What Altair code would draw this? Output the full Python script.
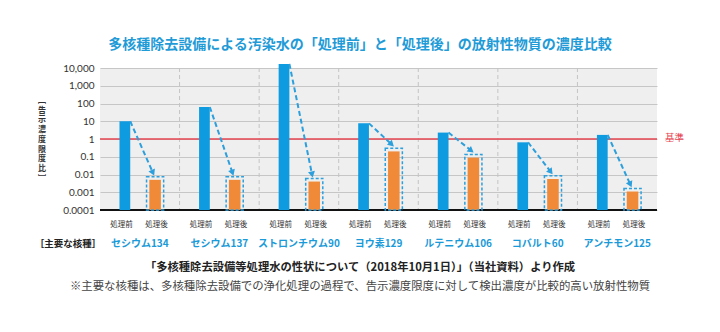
import math
import altair as alt
import pandas as pd

# ---------------- data ----------------
nuclides = ["セシウム134", "セシウム137", "ストロンチウム90", "ヨウ素129",
            "ルテニウム106", "コバルト60", "アンチモン125"]
before = [10, 63, 17000, 7.6, 2.3, 0.65, 1.7]          # 処理前
after = [0.005, 0.005, 0.004, 0.2, 0.089, 0.0056, 0.0011]  # 処理後
tick_values = [0.0001, 0.001, 0.01, 0.1, 1, 10, 100, 1000, 10000]
tick_labels = ["0.0001", "0.001", "0.01", "0.1", "1", "10", "100", "1,000", "10,000"]
bar_labels = ["処理前", "処理後"]
standard = 1

title_text = "多核種除去設備による汚染水の「処理前」と「処理後」の放射性物質の濃度比較"
y_title_chars = ["﹇", "告", "示", "濃", "度", "限", "度", "比", "﹈"]
group_title = "［主要な核種］"
source_text = "「多核種除去設備等処理水の性状について（2018年10月1日）」（当社資料）より作成"
note_text = "※主要な核種は、多核種除去設備での浄化処理の過程で、告示濃度限度に対して検出濃度が比較的高い放射性物質"
standard_label = "基準"

# ---------------- layout / style ----------------
W, H = 557, 142
N = len(nuclides)
FONT = "Noto Sans CJK JP"
BLUE = "#0f9be0"
ORANGE = "#f08a38"
ARROW = "#2c9fdc"
RED = "#e6434f"
TEXT_BLUE = "#1a9ad8"

xs = alt.Scale(domain=[0, N], nice=False, zero=False)
ys = alt.Scale(type="log", domain=[tick_values[0], tick_values[-1]], nice=False)
label_expr = "[" + ",".join("'%s'" % l for l in tick_labels) + "][round(log(datum.value)/LN10)+4]"
y_axis = alt.Axis(values=tick_values, labelExpr=label_expr, title=None, domain=False,
                  ticks=False, grid=True, gridColor="#c6c6c6", gridWidth=1,
                  labelFont="Lato", labelFontSize=10, labelColor="#333333",
                  labelPadding=6, labelFontWeight="normal")

rows = []
for i, (n, b, a) in enumerate(zip(nuclides, before, after)):
    sx, ex = i + 0.38, i + 0.665
    end_v = a * 2.5
    dx = (ex - sx) * W / N
    dy = (math.log10(b) - math.log10(end_v)) * H / 8
    ang = (math.degrees(math.atan2(dx, -dy)) + 360) % 360
    rows.append(dict(name=n, before=b, after=a, base=tick_values[0],
                     bx1=i + 0.245, bx2=i + 0.38,
                     ox1=i + 0.62, ox2=i + 0.765,
                     kx1=i + 0.585, kx2=i + 0.80, ktop=a * 1.5,
                     sx=sx, ex=ex, ev=end_v, ang=ang, cx=i + 0.5))
df = pd.DataFrame(rows)

sep_df = pd.DataFrame({"s": list(range(1, N))})
std_df = pd.DataFrame({"v": [standard]})
lab_rows = []
for i in range(N):
    lab_rows.append(dict(x=i + 0.27, t=bar_labels[0]))
    lab_rows.append(dict(x=i + 0.71, t=bar_labels[1]))
lab_df = pd.DataFrame(lab_rows)

base = alt.Chart(df)

seps = alt.Chart(sep_df).mark_rule(color="#c4c4c4", strokeDash=[4, 3], strokeWidth=1).encode(
    x=alt.X("s:Q", scale=xs, axis=None))

std_line = alt.Chart(std_df).mark_rule(color=RED, strokeWidth=1.5).encode(
    y=alt.Y("v:Q", scale=ys, axis=y_axis))

bottom = alt.Chart(pd.DataFrame({"v": [tick_values[0]]})).mark_rule(
    color="#111111", strokeWidth=2).encode(y=alt.Y("v:Q", scale=ys, axis=y_axis))

bars_b = base.mark_bar(color=BLUE).encode(
    x=alt.X("bx1:Q", scale=xs, axis=None), x2="bx2",
    y=alt.Y("before:Q", scale=ys, axis=y_axis), y2="base")

bars_a = base.mark_bar(color=ORANGE).encode(
    x=alt.X("ox1:Q", scale=xs, axis=None), x2="ox2",
    y=alt.Y("after:Q", scale=ys, axis=y_axis), y2="base")

boxes = base.mark_rect(fillOpacity=0, stroke=ARROW, strokeWidth=1.5, strokeDash=[3, 2]).encode(
    x=alt.X("kx1:Q", scale=xs, axis=None), x2="kx2",
    y=alt.Y("ktop:Q", scale=ys, axis=y_axis), y2="base")

arrows = base.mark_rule(color=ARROW, strokeWidth=2, strokeDash=[5, 3]).encode(
    x=alt.X("sx:Q", scale=xs, axis=None), x2="ex",
    y=alt.Y("before:Q", scale=ys, axis=y_axis), y2="ev")

heads = base.mark_point(shape="triangle-up", filled=True, size=50, color=ARROW, opacity=1).encode(
    x=alt.X("ex:Q", scale=xs, axis=None),
    y=alt.Y("ev:Q", scale=ys, axis=y_axis),
    angle=alt.Angle("ang:Q", scale=None))

bar_txt = alt.Chart(lab_df).mark_text(font=FONT, fontSize=7.5, color="#333333").encode(
    x=alt.X("x:Q", scale=xs, axis=None), y=alt.value(157), text="t:N")

nuc_txt = base.mark_text(font=FONT, fontSize=10, fontWeight="bold", color=TEXT_BLUE).encode(
    x=alt.X("cx:Q", scale=xs, axis=None), y=alt.value(176), text="name:N")

def label(text, x, y, **kw):
    d = pd.DataFrame({"t": [text]})
    return alt.Chart(d).mark_text(font=FONT, **kw).encode(
        x=alt.value(x), y=alt.value(y), text="t:N")

title = label(title_text, 260, -23, fontSize=14, fontWeight="bold", color="#1f9bd7")
ytitle = label("\n".join(y_title_chars), -58, 29, fontSize=8, lineHeight=9.7, color="#333333",
               baseline="top", fontWeight="bold", lineBreak="\n")
gtitle = label(group_title, -32, 176, fontSize=9.5, fontWeight="bold", color="#222222")
src = label(source_text, 260, 200, fontSize=11.3, fontWeight="bold", color="#222222")
note = label(note_text, 260, 219, fontSize=11.4, color="#444444")
stdl = label(standard_label, 565, 70, fontSize=9.5, color=RED, align="left")

chart = alt.layer(
    seps, std_line, bottom, bars_b, bars_a, boxes, arrows, heads,
    bar_txt, nuc_txt, title, ytitle, gtitle, src, note, stdl
).properties(
    width=W, height=H,
    autosize=alt.AutoSizeParams(type="none"),
    padding={"left": 100, "top": 68, "right": 63, "bottom": 122},
    background="white",
).configure_view(fill="#efefef", strokeWidth=0)

chart.save("out.html", embed_options={"renderer": "svg", "actions": False})
